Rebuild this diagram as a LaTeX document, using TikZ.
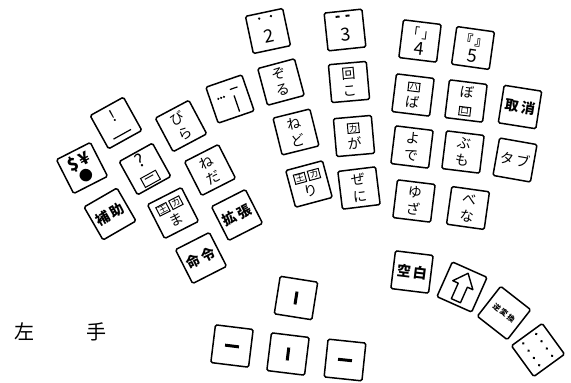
\documentclass[tikz,border=0pt]{standalone}
\usepackage{fontspec}
\newfontfamily\cjk{Noto Sans CJK JP}
\usetikzlibrary{positioning}

\tikzset{
  keycap/.style={draw, line width=1.5pt, rounded corners=1.5pt, minimum size=38pt,
    inner sep=0pt, align=center, font=\cjk\fontsize{14}{17}\selectfont},
  wordkey/.style={keycap, font=\cjk\bfseries\fontsize{14}{17}\selectfont},
  digit/.style={inner sep=0pt, font=\cjk\fontsize{18}{18}\selectfont},
  handlabel/.style={inner sep=0pt, font=\cjk\fontsize{20}{20}\selectfont},
}
\newcommand{\kbox}[1]{{\setlength{\fboxsep}{0.6pt}\setlength{\fboxrule}{1pt}\fbox{\fontsize{9}{9}\selectfont #1}}}

\begin{document}
\begin{tikzpicture}[x=1pt, y=-1pt]
    \useasboundingbox (0,0) rectangle (571,383);

    % Left hand block
    \node[keycap, rotate=27] (sym) at (82,168) {{\bfseries\fontsize{17}{17}\selectfont\$\kern3pt¥}\\[-2pt]●};
    \node[keycap, rotate=29] (excl) at (116,123) {\fontsize{16}{16}\selectfont !\\[-2pt]\rule{20pt}{1.2pt}};
    \node[keycap, rotate=28] (bira) at (181,126) {び\\ら};
    \node[keycap, rotate=19] (dots) at (230,99) {};
    \node[keycap, rotate=29] (quest) at (145,169) {\fontsize{18}{16}\selectfont ?\\{\setlength{\fboxsep}{2pt}\setlength{\fboxrule}{1pt}\fbox{\fontsize{12}{12}\selectfont ー}}};
    \node[keycap, rotate=27] (neda) at (210,170) {ね\\だ};
    \node[wordkey, rotate=30] (hojo) at (110,214) {補\,助};
    \node[keycap, rotate=27] (kuma) at (173,213) {\kbox{王}\,\kbox{カ}\\ま};
    \node[wordkey, rotate=27] (kakucho) at (237,215) {拡\,張};
    \node[wordkey, rotate=27] (meirei) at (201,258) {命\,令};

    % marks on the dots key
    \begin{scope}[shift={(dots.center)}, rotate=19]
        \fill (-11,-4) circle (1.2pt) (-8,-4) circle (1.2pt) (-5,-4) circle (1.2pt);
        \draw[line width=1.2pt] (3,-9) -- (11,-9);
        \draw[line width=1.3pt] (5,-2) -- (5,15);
    \end{scope}

    % Middle block
    \node[keycap, rotate=12] (two) at (268,31) {};
    \node[keycap, rotate=6] (three) at (345,30) {};
    \node[keycap, rotate=15] (zoru) at (281,82) {ぞ\\る};
    \node[keycap, rotate=5] (koko) at (349,82) {回\\こ};
    \node[keycap, rotate=14] (nedo) at (296,132) {ね\\ど};
    \node[keycap, rotate=5] (ga) at (354,136) {\kbox{カ}\\が};
    \node[keycap, rotate=15] (ri) at (309,184) {\kbox{王}\,\kbox{カ}\\り};
    \node[keycap, rotate=7] (zeni) at (359,188) {ぜ\\に};

    \begin{scope}[shift={(two.center)}, rotate=12, transform shape]
        \fill (-6,-14) circle (1.3pt) (6,-14) circle (1.3pt);
        \node[digit] (twodigit) at (0,5) {2};
    \end{scope}
    \begin{scope}[shift={(three.center)}, rotate=6, transform shape]
        \fill (-8,-15) rectangle (-4,-13) (2,-15) rectangle (6,-13);
        \node[digit] (threedigit) at (0,5) {3};
    \end{scope}

    % Right block
    \node[keycap, rotate=-7] (four) at (420,41) {};
    \node[keycap, rotate=-8] (five) at (473,48) {};
    \node[keycap, rotate=-7] (ba) at (413,95) {\kbox{ハ}\\ば};
    \node[keycap, rotate=-7] (bo) at (466,101) {ぼ\\\kbox{ロ}};
    \node[wordkey, rotate=-9] (cancel) at (520,107) {取\,消};
    \node[keycap, rotate=-7] (yode) at (412,147) {よ\\で};
    \node[keycap, rotate=-7] (bumo) at (463,152) {ぶ\\も};
    \node[keycap, rotate=-10] (tab) at (515,160) {タ\,ブ};
    \node[keycap, rotate=-7] (yuza) at (414,201) {ゆ\\ざ};
    \node[keycap, rotate=-8] (bena) at (468,208) {べ\\な};

    \begin{scope}[shift={(four.center)}, rotate=-7, transform shape]
        \node[inner sep=0pt, font=\cjk\fontsize{13}{13}\selectfont] (fourbr) at (0,-8) {「\,」};
        \node[digit] (fourdigit) at (0,8) {4};
    \end{scope}
    \begin{scope}[shift={(five.center)}, rotate=-8, transform shape]
        \node[inner sep=0pt, font=\cjk\bfseries\fontsize{13}{13}\selectfont] (fivebr) at (0,-8) {『\,』};
        \node[digit] (fivedigit) at (0,8) {5};
    \end{scope}

    % Thumb keys
    \node[wordkey, rotate=-7] (space) at (412,272) {空\,白};
    \node[keycap, rotate=-24] (shift) at (462,287) {};
    \node[keycap, rotate=-38, font=\cjk\bfseries\fontsize{7.5}{8}\selectfont] (conv) at (504,313) {逆\kern1.5pt変\kern1.5pt換};
    \node[keycap, rotate=-54] (dotkey) at (538,350) {};

    \begin{scope}[shift={(shift.center)}, rotate=-24]
        \draw[line width=1.4pt, line join=round]
            (0,-15) -- (11,-2) -- (5,-2) -- (5,15) -- (-5,15) -- (-5,-2) -- (-11,-2) -- cycle;
    \end{scope}
    \begin{scope}[shift={(dotkey.center)}, rotate=-54]
        \foreach \u in {-14,-5,4,13} {
            \fill (\u,-8) circle (1.4pt);
            \fill (\u,8) circle (1.4pt);
        }
    \end{scope}

    % Cursor keys
    \node[keycap, rotate=-9] (up) at (296,298) {\rule{3pt}{13pt}};
    \node[keycap, rotate=-7] (left) at (232,346) {\rule{14pt}{3pt}};
    \node[keycap, rotate=-7] (down) at (288,354) {\rule{3pt}{13pt}};
    \node[keycap, rotate=-6] (right) at (345,360) {\rule{14pt}{3pt}};

    % Hand label
    \node[handlabel] (handl) at (24,332) {左};
    \node[handlabel] (handr) at (96,332) {手};
\end{tikzpicture}
\end{document}
